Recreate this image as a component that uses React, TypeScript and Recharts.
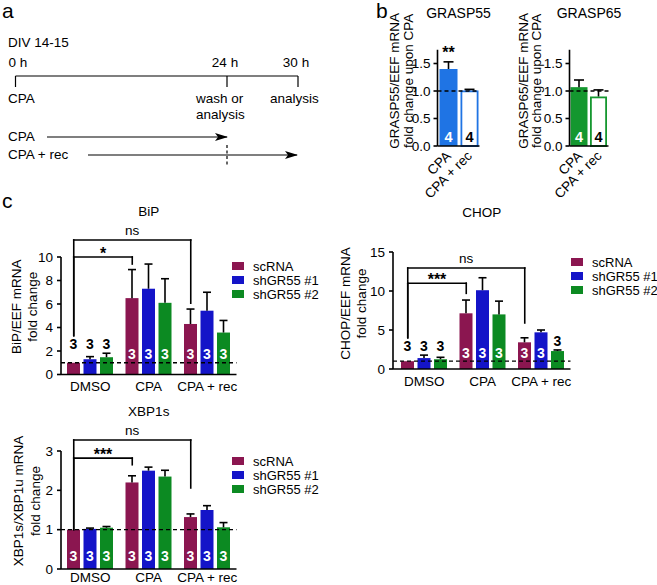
import React from 'react';
import { BarChart, Bar, XAxis, YAxis, ReferenceLine, Legend } from 'recharts';

const FONT = '"Liberation Sans", Arial, Helvetica, sans-serif';

// panel a - protocol
const timeLabels = ['0 h', '24 h', '30 h'];
const protocolRows = ['CPA', 'CPA + rec'];

// panel b - GRASP mRNA upon CPA
const graspConditions = ['CPA', 'CPA + rec'];
const grasp55Fold = [1.4, 1.01];
const grasp55Sem = [0.13, 0.02];
const grasp65Fold = [1.07, 0.9];
const grasp65Sem = [0.13, 0.12];
const graspN = [4, 4];
const grasp55Sig = ['**', ''];
const grasp65Sig = ['', ''];

// panel c - UPR markers
const treatments = ['DMSO', 'CPA', 'CPA + rec'];
const constructs = ['scRNA', 'shGR55 #1', 'shGR55 #2'];

const bipScRNA = [1.0, 6.5, 4.3];
const bipSh1 = [1.3, 7.3, 5.43];
const bipSh2 = [1.47, 6.1, 3.57];
const bipSemScRNA = [0, 2.43, 1.27];
const bipSemSh1 = [0.22, 2.1, 1.57];
const bipSemSh2 = [0.34, 2.05, 1.03];

const chopScRNA = [1.0, 7.14, 3.42];
const chopSh1 = [1.4, 10.1, 4.7];
const chopSh2 = [1.25, 7.0, 2.3];
const chopSemScRNA = [0, 1.7, 0.58];
const chopSemSh1 = [0.38, 1.6, 0.3];
const chopSemSh2 = [0.25, 1.7, 0.14];

const xbpScRNA = [1.0, 2.2, 1.32];
const xbpSh1 = [1.02, 2.5, 1.5];
const xbpSh2 = [1.05, 2.35, 1.06];
const xbpSemScRNA = [0, 0.17, 0.08];
const xbpSemSh1 = [0.02, 0.09, 0.11];
const xbpSemSh2 = [0.03, 0.16, 0.12];

const nScRNA = [3, 3, 3];
const nSh1 = [3, 3, 3];
const nSh2 = [3, 3, 3];

const CONSTRUCT_COLORS = ['#8b1650', '#1414c8', '#0c8a22'];
const BAR = 13;
const GAP = 3.5;

type Box = { left: number; top: number; width: number; height: number };
type Plot = { left: number; right: number; top: number; bottom: number };
type Bracket = { to: string; text: string; level: number; toEnd: number };

const yLabel = (lines: string[], ax: number, cy: number, dx: number[]) => () => (
  <g>
    {lines.map((l, i) => (
      <text
        key={i}
        x={ax + dx[i]}
        y={cy}
        transform={`rotate(-90, ${ax + dx[i]}, ${cy})`}
        textAnchor="middle"
        dominantBaseline="central"
        fontSize={13.5}
        fill="#000"
        fontFamily={FONT}
      >
        {l}
      </text>
    ))}
  </g>
);

const bracketShape = (dx: number, text?: string) => (lp: any) => {
  const star = text && text.startsWith('*');
  return (
    <g>
      <line x1={lp.x1 + dx} y1={lp.y1} x2={lp.x2 + dx} y2={lp.y2} stroke="#000" strokeWidth={1.6} strokeLinecap="square" />
      {text && (
        <text
          x={(lp.x1 + lp.x2) / 2 + dx}
          y={star ? lp.y1 + 2 : lp.y1 - 5}
          textAnchor="middle"
          fontSize={star ? 16 : 13.5}
          fontWeight={star ? 'bold' : 'normal'}
          fill="#000"
          fontFamily={FONT}
        >
          {text}
        </text>
      )}
    </g>
  );
};

type GroupProps = {
  box: Box;
  plot: Plot;
  padLeft: number;
  xAxisHeight: number;
  xTickMargin: number;
  title: string;
  titleY: number;
  yLines: string[];
  yDx: number[];
  yDy: number;
  yMax: number;
  yTicks: number[];
  series: number[][];
  sems: number[][];
  counts: number[][];
  brackets: Bracket[];
  fromEnd: number;
  insideLift: number;
  legendAt: { x: number; y: number };
};

function GroupPanel(p: GroupProps) {
  const { box, plot } = p;
  const data = treatments.map((t, i) => {
    const row: Record<string, any> = { treatment: t };
    constructs.forEach((_, k) => {
      row[`v${k}`] = p.series[k][i];
      row[`e${k}`] = p.sems[k][i];
      row[`n${k}`] = p.counts[k][i];
    });
    return row;
  });
  const yw = 40;
  const margin = {
    left: plot.left - box.left - yw,
    top: plot.top - box.top,
    right: box.left + box.width - plot.right,
    bottom: box.top + box.height - plot.bottom - p.xAxisHeight,
  };
  const scOffset = -(BAR + GAP);

  const makeShape = (k: number) => (s: any) => {
    const { x, y, width, height, payload } = s;
    const v = payload[`v${k}`];
    const ppu = height / v;
    const base = y + height;
    const cx = x + width / 2;
    const err = payload[`e${k}`];
    const errTop = y - err * ppu;
    const inside = height > 22;
    let labelY = base - p.insideLift;
    if (!inside) {
      let top = errTop;
      constructs.forEach((_, j) => {
        const vj = payload[`v${j}`];
        if (vj * ppu <= 22) top = Math.min(top, base - (vj + payload[`e${j}`]) * ppu);
      });
      labelY = top - 9;
    }
    return (
      <g>
        <rect x={x} y={y} width={width} height={height} fill={CONSTRUCT_COLORS[k]} />
        {err > 0 && (
          <g stroke="#000" strokeWidth={1.6}>
            <line x1={cx} x2={cx} y1={y} y2={errTop} />
            <line x1={cx - 4} x2={cx + 4} y1={errTop} y2={errTop} />
          </g>
        )}
        <text
          x={cx}
          y={labelY}
          textAnchor="middle"
          dominantBaseline="central"
          fontSize={14}
          fontWeight="bold"
          fill={inside ? '#fff' : '#000'}
          fontFamily={FONT}
        >
          {payload[`n${k}`]}
        </text>
      </g>
    );
  };

  const ax = plot.left - box.left;
  const cy = (plot.top + plot.bottom) / 2 - box.top + p.yDy;

  return (
    <div style={{ position: 'absolute', left: box.left, top: box.top, width: box.width, height: box.height }}>
      <div
        style={{
          position: 'absolute',
          left: (plot.left + plot.right) / 2 - box.left - 60,
          top: p.titleY - box.top - 8,
          width: 120,
          textAlign: 'center',
          fontSize: 13.5,
          lineHeight: '16px',
          zIndex: 2,
        }}
      >
        {p.title}
      </div>
      <BarChart width={box.width} height={box.height} data={data} margin={margin} barGap={GAP} barSize={BAR}>
        <XAxis
          dataKey="treatment"
          height={p.xAxisHeight}
          padding={{ left: p.padLeft, right: 0 }}
          tickLine={false}
          tickSize={0}
          tickMargin={p.xTickMargin}
          axisLine={{ stroke: '#000', strokeWidth: 1.6 }}
          tick={{ fill: '#000', fontSize: 13.5, fontFamily: FONT }}
          interval={0}
        />
        <YAxis
          width={yw}
          domain={[0, p.yMax]}
          ticks={p.yTicks}
          interval={0}
          tickSize={4}
          tickMargin={4}
          axisLine={{ stroke: '#000', strokeWidth: 1.6 }}
          tickLine={{ stroke: '#000', strokeWidth: 1.6 }}
          tick={{ fill: '#000', fontSize: 13.5, fontFamily: FONT }}
          label={yLabel(p.yLines, ax, cy, p.yDx)}
        />
        {constructs.map((name, k) => (
          <Bar key={name} dataKey={`v${k}`} name={name} fill={CONSTRUCT_COLORS[k]} shape={makeShape(k)} isAnimationActive={false} />
        ))}
        <ReferenceLine y={1} stroke="#000" strokeWidth={1.3} strokeDasharray="4 3" ifOverflow="visible" />
        {p.brackets.flatMap((b, i) => [
          <ReferenceLine
            key={`h${i}`}
            segment={[{ x: treatments[0], y: b.level }, { x: b.to, y: b.level }]}
            ifOverflow="visible"
            shape={bracketShape(scOffset, b.text)}
          />,
          <ReferenceLine
            key={`l${i}`}
            segment={[{ x: treatments[0], y: b.level }, { x: treatments[0], y: p.fromEnd }]}
            ifOverflow="visible"
            shape={bracketShape(scOffset)}
          />,
          <ReferenceLine
            key={`r${i}`}
            segment={[{ x: b.to, y: b.level }, { x: b.to, y: b.toEnd }]}
            ifOverflow="visible"
            shape={bracketShape(scOffset)}
          />,
        ])}
        <Legend
          layout="vertical"
          align="center"
          verticalAlign="middle"
          wrapperStyle={{ position: 'absolute', left: p.legendAt.x - box.left, top: p.legendAt.y - box.top, width: 110 }}
          content={() => (
            <div style={{ fontFamily: FONT }}>
              {constructs.map((c, k) => (
                <div key={c} style={{ display: 'flex', alignItems: 'center', height: 14, fontSize: 13, whiteSpace: 'nowrap' }}>
                  <span style={{ width: 12, height: 8, background: CONSTRUCT_COLORS[k], marginRight: 9 }} />
                  <span>{c}</span>
                </div>
              ))}
            </div>
          )}
        />
      </BarChart>
    </div>
  );
}

type GraspProps = {
  box: Box;
  plot: Plot;
  title: string;
  yLines: string[];
  yDx: number[];
  values: number[];
  sems: number[];
  sig: string[];
  color: string;
};

function GraspPanel(p: GraspProps) {
  const { box, plot } = p;
  const data = graspConditions.map((c, i) => ({ cond: c, v: p.values[i], e: p.sems[i], n: graspN[i], sig: p.sig[i] }));
  const yw = 40;
  const xh = 50;
  const margin = {
    left: plot.left - box.left - yw,
    top: plot.top - box.top,
    right: box.left + box.width - plot.right,
    bottom: box.top + box.height - plot.bottom - xh,
  };
  const shape = (s: any) => {
    const { x, y, width, height, payload, index } = s;
    const ppu = height / payload.v;
    const cx = x + width / 2;
    const errTop = y - payload.e * ppu;
    const filled = index === 0;
    return (
      <g>
        {filled ? (
          <rect x={x} y={y} width={width} height={height} fill={p.color} />
        ) : (
          <rect x={x + 0.9} y={y + 0.9} width={width - 1.8} height={height - 0.9} fill="#fff" stroke={p.color} strokeWidth={1.8} />
        )}
        <g stroke="#000" strokeWidth={1.6}>
          <line x1={cx} x2={cx} y1={y} y2={errTop} />
          <line x1={cx - 5} x2={cx + 5} y1={errTop} y2={errTop} />
        </g>
        <text
          x={cx}
          y={y + height - 9}
          textAnchor="middle"
          dominantBaseline="central"
          fontSize={14.5}
          fontWeight="bold"
          fill={filled ? '#fff' : '#000'}
          fontFamily={FONT}
        >
          {payload.n}
        </text>
        {payload.sig && (
          <text x={cx} y={errTop - 4} textAnchor="middle" fontSize={16} fontWeight="bold" fill="#000" fontFamily={FONT}>
            {payload.sig}
          </text>
        )}
      </g>
    );
  };
  const rotTick = (t: any) => (
    <text
      x={t.x - 3}
      y={t.y + 4}
      transform={`rotate(-45, ${t.x - 3}, ${t.y + 4})`}
      textAnchor="end"
      dominantBaseline="hanging"
      fontSize={13.5}
      fill="#000"
      fontFamily={FONT}
    >
      {t.payload.value}
    </text>
  );
  const ax = plot.left - box.left;
  const cy = (plot.top + plot.bottom) / 2 - box.top - 17;
  return (
    <div style={{ position: 'absolute', left: box.left, top: box.top, width: box.width, height: box.height }}>
      <div
        style={{
          position: 'absolute',
          left: (plot.left + plot.right) / 2 - box.left - 50,
          top: 5,
          width: 100,
          textAlign: 'center',
          fontSize: 14,
          lineHeight: '16px',
        }}
      >
        {p.title}
      </div>
      <BarChart width={box.width} height={box.height} data={data} margin={margin} barSize={plot.right - plot.left > 40 ? 18 : 17}>
        <XAxis
          dataKey="cond"
          height={xh}
          tickLine={false}
          tickSize={0}
          tickMargin={0}
          axisLine={{ stroke: '#000', strokeWidth: 1.6 }}
          tick={rotTick}
          interval={0}
        />
        <YAxis
          width={yw}
          domain={[0, 1.75]}
          ticks={[0, 0.5, 1, 1.5]}
          interval={0}
          tickFormatter={(v: number) => v.toFixed(1)}
          tickSize={4}
          tickMargin={3}
          axisLine={{ stroke: '#000', strokeWidth: 1.6 }}
          tickLine={{ stroke: '#000', strokeWidth: 1.6 }}
          tick={{ fill: '#000', fontSize: 13.5, fontFamily: FONT }}
          label={yLabel(p.yLines, ax, cy, p.yDx)}
        />
        <Bar dataKey="v" fill={p.color} shape={shape} isAnimationActive={false} />
        <ReferenceLine y={1} stroke="#000" strokeWidth={1.3} strokeDasharray="4 3" ifOverflow="visible" />
      </BarChart>
    </div>
  );
}

function Protocol() {
  const tickX = [15.5, 227, 298];
  return (
    <svg width={330} height={185} style={{ position: 'absolute', left: 0, top: 0 }} fontFamily={FONT} fontSize={13.5}>
      <defs>
        <marker id="arrowHead" viewBox="0 0 13 8" refX={12} refY={4} markerWidth={13} markerHeight={8} markerUnits="userSpaceOnUse" orient="auto">
          <path d="M0,0 L13,4 L0,8 L3,4 Z" fill="#000" />
        </marker>
      </defs>
      <text x={8} y={47}>DIV 14-15</text>
      {timeLabels.map((t, i) => (
        <text key={t} x={tickX[i] + (i === 0 ? -7 : -2)} y={67} textAnchor={i === 0 ? 'start' : 'middle'}>
          {t}
        </text>
      ))}
      <line x1={tickX[0]} x2={tickX[2]} y1={76} y2={76} stroke="#000" strokeWidth={1.2} />
      {tickX.map((x) => (
        <line key={x} x1={x} x2={x} y1={76} y2={87} stroke="#000" strokeWidth={1.2} />
      ))}
      <text x={8} y={103}>CPA</text>
      <text x={196} y={103}>wash or</text>
      <text x={196} y={119}>analysis</text>
      <text x={270} y={103}>analysis</text>
      <text x={8} y={141}>{protocolRows[0]}</text>
      <line x1={47} x2={227} y1={137} y2={137} stroke="#000" strokeWidth={1.2} markerEnd="url(#arrowHead)" />
      <text x={8} y={159}>{protocolRows[1]}</text>
      <line x1={88} x2={297} y1={155} y2={155} stroke="#000" strokeWidth={1.2} markerEnd="url(#arrowHead)" />
      <line x1={227} x2={227} y1={145} y2={166} stroke="#000" strokeWidth={1.2} strokeDasharray="3 2.5" />
    </svg>
  );
}

export default function App() {
  const panelLabel = (t: string, x: number, y: number) => (
    <div style={{ position: 'absolute', left: x, top: y, fontSize: 21, lineHeight: '22px' }}>{t}</div>
  );
  return (
    <div
      style={{
        position: 'absolute',
        left: 0,
        top: 0,
        width: 657,
        height: 585,
        background: '#fff',
        fontFamily: FONT,
        color: '#000',
        overflow: 'hidden',
      }}
    >
      <Protocol />
      {panelLabel('a', 2, 0)}
      {panelLabel('b', 376, 0)}
      {panelLabel('c', 2, 190)}
      <GraspPanel
        box={{ left: 370, top: 0, width: 140, height: 200 }}
        plot={{ left: 437.5, right: 479.5, top: 49.75, bottom: 146 }}
        title="GRASP55"
        yLines={['GRASP55/EEF mRNA', 'fold change upon CPA']}
        yDx={[-43.5, -29.5]}
        values={grasp55Fold}
        sems={grasp55Sem}
        sig={grasp55Sig}
        color="#1f74e4"
      />
      <GraspPanel
        box={{ left: 500, top: 0, width: 140, height: 200 }}
        plot={{ left: 569.5, right: 608.5, top: 49.75, bottom: 146 }}
        title="GRASP65"
        yLines={['GRASP65/EEF mRNA', 'fold change upon CPA']}
        yDx={[-46.5, -33.5]}
        values={grasp65Fold}
        sems={grasp65Sem}
        sig={grasp65Sig}
        color="#14972f"
      />
      <GroupPanel
        box={{ left: 0, top: 185, width: 330, height: 210 }}
        plot={{ left: 61, right: 236.5, top: 257, bottom: 374.5 }}
        padLeft={0}
        xAxisHeight={20}
        xTickMargin={7}
        title="BiP"
        titleY={212}
        yLines={['BiP/EEF mRNA', 'fold change']}
        yDx={[-45, -29]}
        yDy={-9}
        yMax={10}
        yTicks={[0, 2, 4, 6, 8, 10]}
        series={[bipScRNA, bipSh1, bipSh2]}
        sems={[bipSemScRNA, bipSemSh1, bipSemSh2]}
        counts={[nScRNA, nSh1, nSh2]}
        brackets={[
          { to: 'CPA', text: '*', level: 10.0, toEnd: 9.4 },
          { to: 'CPA + rec', text: 'ns', level: 11.45, toEnd: 6.07 },
        ]}
        fromEnd={3.3}
        insideLift={21}
        legendAt={{ x: 232, y: 259 }}
      />
      <GroupPanel
        box={{ left: 330, top: 200, width: 327, height: 200 }}
        plot={{ left: 393, right: 570.5, top: 252, bottom: 369 }}
        padLeft={2}
        xAxisHeight={20}
        xTickMargin={7}
        title="CHOP"
        titleY={213}
        yLines={['CHOP/EEF mRNA', 'fold change']}
        yDx={[-48, -32]}
        yDy={-7}
        yMax={15}
        yTicks={[0, 5, 10, 15]}
        series={[chopScRNA, chopSh1, chopSh2]}
        sems={[chopSemScRNA, chopSemSh1, chopSemSh2]}
        counts={[nScRNA, nSh1, nSh2]}
        brackets={[
          { to: 'CPA', text: '***', level: 11.0, toEnd: 9.7 },
          { to: 'CPA + rec', text: 'ns', level: 12.95, toEnd: 5.9 },
        ]}
        fromEnd={4.0}
        insideLift={16.5}
        legendAt={{ x: 571, y: 255 }}
      />
      <GroupPanel
        box={{ left: 0, top: 385, width: 330, height: 200 }}
        plot={{ left: 61, right: 236.5, top: 451, bottom: 569 }}
        padLeft={0}
        xAxisHeight={16}
        xTickMargin={3}
        title="XBP1s"
        titleY={412}
        yLines={['XBP1s/XBP1u mRNA', 'fold change']}
        yDx={[-43, -26]}
        yDy={-9}
        yMax={3}
        yTicks={[0, 1, 2, 3]}
        series={[xbpScRNA, xbpSh1, xbpSh2]}
        sems={[xbpSemScRNA, xbpSemSh1, xbpSemSh2]}
        counts={[nScRNA, nSh1, nSh2]}
        brackets={[
          { to: 'CPA', text: '***', level: 2.82, toEnd: 2.65 },
          { to: 'CPA + rec', text: 'ns', level: 3.28, toEnd: 2.06 },
        ]}
        fromEnd={1.0}
        insideLift={13}
        legendAt={{ x: 232, y: 454 }}
      />
    </div>
  );
}
